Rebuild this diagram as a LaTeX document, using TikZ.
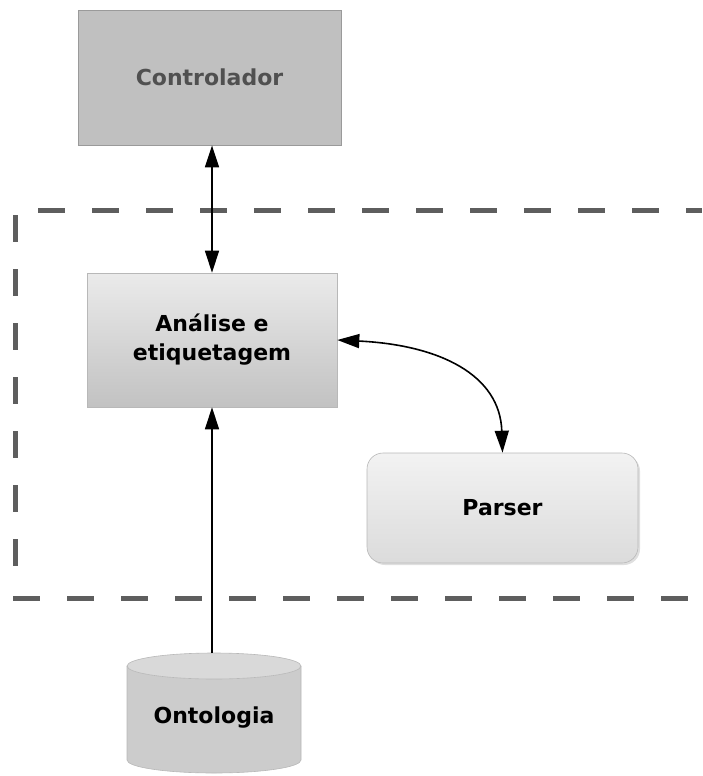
\documentclass[tikz,border=0pt]{standalone}
\usepackage{fontspec}
\setmainfont{DejaVu Sans}
\usetikzlibrary{arrows.meta,shadows}
\definecolor{ctrlfill}{HTML}{C0C0C0}
\definecolor{ctrltext}{HTML}{505050}
\definecolor{boxedge}{HTML}{9A9A9A}
\definecolor{framecol}{HTML}{5E5E5E}
\tikzset{
  lbl/.style={font=\bfseries\fontsize{22}{29}\selectfont, align=center},
  ctrlbox/.style={lbl, draw=boxedge, line width=0.8pt, fill=ctrlfill, text=ctrltext,
    minimum width=263pt, minimum height=135pt, inner sep=0pt},
  procbox/.style={lbl, draw=boxedge!70, line width=0.6pt, top color=white!92!black,
    bottom color=white!76!black, minimum width=250pt, minimum height=134pt, inner sep=0pt},
  parsbox/.style={lbl, draw=boxedge!70, line width=0.6pt, rounded corners=16pt,
    top color=white!95!black, bottom color=white!86!black,
    minimum width=271pt, minimum height=110pt, inner sep=0pt},
  conn/.style={line width=1.6pt, draw=black},
  frameline/.style={line width=5pt, draw=framecol, dash pattern=on 27pt off 27pt},
}
\begin{document}
\begin{tikzpicture}[x=1pt,y=-1pt]
  \useasboundingbox (0,0) rectangle (702,776);

  % dashed frame around the processing stage
  \coordinate (ftl) at (38,210);
  \coordinate (ftr) at (702,210);
  \coordinate (flt) at (15,215);
  \coordinate (flb) at (15,570);
  \coordinate (fbl) at (13,598);
  \coordinate (fbr) at (690,598);
  \draw[frameline] (ftl) -- (ftr);
  \draw[frameline] (flt) -- (flb);
  \draw[frameline] (fbl) -- (fbr);

  % components
  \node[ctrlbox] (ctrl) at (209.5,77.5) {Controlador};
  \node[procbox] (anal) at (212,340) {Análise e\\etiquetagem};
  \node[parsbox, drop shadow={shadow xshift=2pt, shadow yshift=-2pt, opacity=0.25}] (pars) at (502.5,508) {Parser};

  % ontology store (cylinder)
  \fill[white!80!black] (127,666) -- (127,760) arc[start angle=180,end angle=360,x radius=87,y radius=-13]
    -- (301,666) arc[start angle=0,end angle=180,x radius=87,y radius=13] -- cycle;
  \draw[boxedge!70, line width=0.6pt, fill=white!85!black] (214,666) ellipse[x radius=87,y radius=13];
  \draw[boxedge!70, line width=0.6pt] (127,666) -- (127,760) arc[start angle=180,end angle=360,x radius=87,y radius=-13] -- (301,666);
  \node[lbl, inner sep=0pt] (onto) at (214,718) {Ontologia};
  \coordinate (ontotop) at (212,653);

  % connectors
  \draw[conn, {Triangle[length=22pt,width=14pt]}-{Triangle[length=22pt,width=14pt]}] (ctrl.south -| ontotop) -- (anal.north -| ontotop);
  \draw[conn, -{Triangle[length=22pt,width=14pt]}] (ontotop) -- (anal.south -| ontotop);
  \draw[conn, {Triangle[length=22pt,width=14pt]}-{Triangle[length=22pt,width=14pt]}]
    (anal.east) .. controls (440,345) and (500,375) .. (pars.north);
\end{tikzpicture}
\end{document}
